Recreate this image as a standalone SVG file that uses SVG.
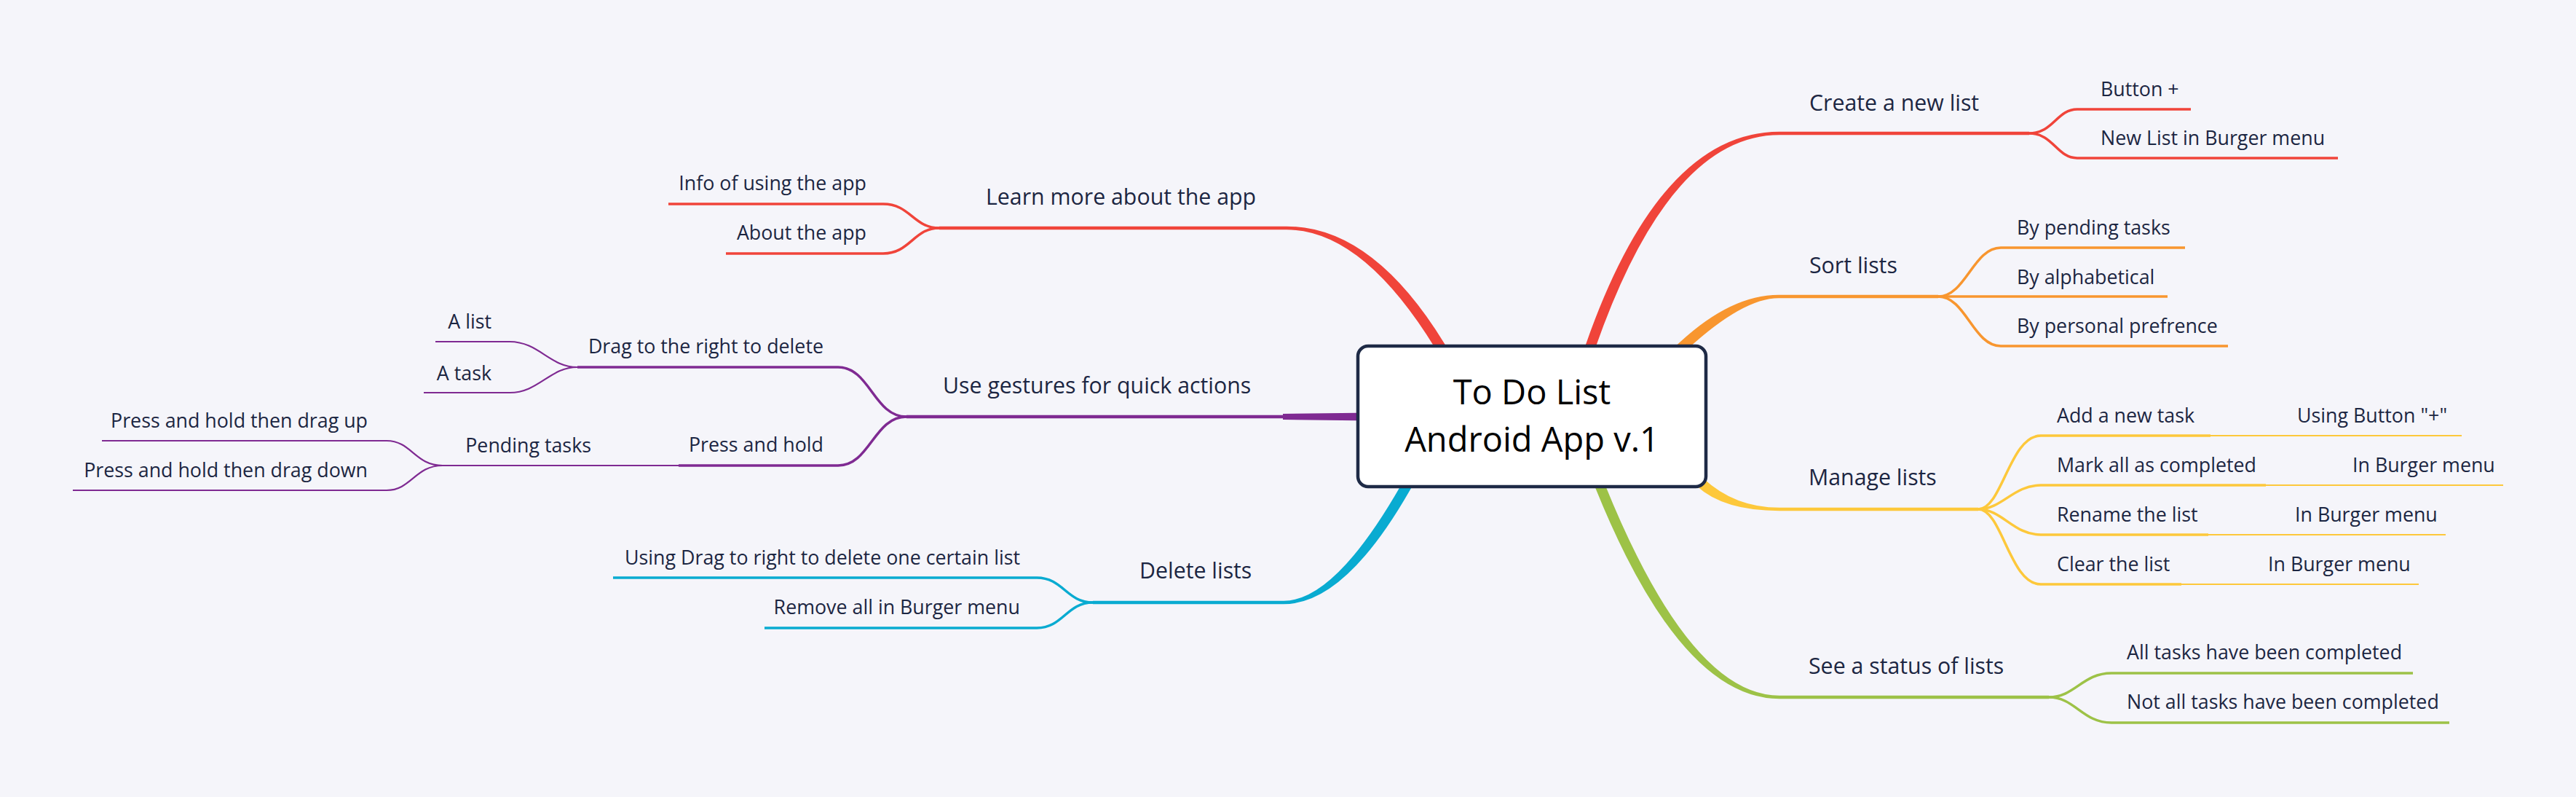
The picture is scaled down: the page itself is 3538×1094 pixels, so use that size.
<svg xmlns="http://www.w3.org/2000/svg" width="3538" height="1094" viewBox="0 0 3538 1094">
<style>
text{font-family:"Open Sans","Liberation Sans",sans-serif;fill:#1c2642}
.t1{font-size:30.3px}
.t2{font-size:26.8px}
.e{text-anchor:end}
.ctr{font-size:47px;fill:#000;text-anchor:middle}
.l1{stroke-width:4.5;fill:none}
.l2{stroke-width:3.5;fill:none}
.l3{stroke-width:2.2;fill:none}
.red{stroke:#f0443a}.redf{fill:#f0443a}
.org{stroke:#f8962f}.orgf{fill:#f8962f}
.yel{stroke:#fdc83b}.yelf{fill:#fdc83b}
.grn{stroke:#9dc247}.grnf{fill:#9dc247}
.cyn{stroke:#09abd1}.cynf{fill:#09abd1}
.pur{stroke:#7f2a92}.purf{fill:#7f2a92}
</style>
<rect x="0" y="0" width="3538" height="1094" fill="#f5f5fa"/>
<g id="connectors">
<path class="redf" d="M2171.8 490.6 L2178.4 471.7 Q2280.4 180.75 2444 180.75 L2444 185.25 Q2293.6 185.25 2191.6 476.3 L2185 495.2 Z"/>
<path class="orgf" d="M2293.6 482.3 L2308.3 468.8 Q2378.1 404.75 2443 404.75 L2443 409.25 Q2393.9 409.25 2317.7 479.2 L2303 492.7 Z"/>
<path class="yelf" d="M2325.1 643.3 L2339.8 656.9 Q2382.9 696.75 2444 696.75 L2444 701.25 Q2367.1 701.25 2330.2 667.1 L2315.5 653.5 Z"/>
<path class="grnf" d="M2197 646.9 L2204.5 665.4 Q2321.6 954.75 2444 954.75 L2444 959.25 Q2308.3 959.25 2191.5 670.6 L2184 652.1 Z"/>
<path class="redf" d="M1981.5 494.7 L1971 477.7 Q1871.1 315.25 1767 315.25 L1767 310.75 Q1884.9 310.75 1983 470.3 L1993.5 487.3 Z"/>
<path class="cynf" d="M1946 656.2 L1936.1 673.5 Q1846.8 829.25 1763 829.25 L1763 824.75 Q1833.2 824.75 1923.9 666.5 L1933.8 649.2 Z"/>
<path class="purf" d="M1885 566.5 L1762 568 L1762 576 L1885 577.5 Z"/>
<path class="l2 red" d="M2787 183 C2820 183 2825 150 2853 150"/>
<path class="l2 red" d="M2787 183 C2820 183 2825 217 2853 217"/>
<path class="l2 org" d="M2662 407 C2700 407 2710 340 2748 340"/>
<path class="l2 org" d="M2662 407 L2748 407"/>
<path class="l2 org" d="M2662 407 C2700 407 2710 475 2748 475"/>
<path class="l2 yel" d="M2717 699 C2750 699 2760 598 2803 598"/>
<path class="l2 yel" d="M2717 699 C2750 699 2765 666 2803 666"/>
<path class="l2 yel" d="M2717 699 C2750 699 2765 734 2803 734"/>
<path class="l2 yel" d="M2717 699 C2750 699 2760 802 2803 802"/>
<path class="l3 yel" d="M3036 598 L3140 598"/>
<path class="l3 yel" d="M3112 666 L3216 666"/>
<path class="l3 yel" d="M3033 734 L3137 734"/>
<path class="l3 yel" d="M2996 802 L3100 802"/>
<path class="l2 grn" d="M2814 957 C2850 957 2860 924 2900 924"/>
<path class="l2 grn" d="M2814 957 C2850 957 2860 992 2900 992"/>
<path class="l2 red" d="M1290 313 C1255 313 1250 280 1213 280"/>
<path class="l2 red" d="M1290 313 C1255 313 1250 348 1213 348"/>
<path class="l2 pur" d="M1245 572 C1200 572 1195 504 1151 504"/>
<path class="l2 pur" d="M1245 572 C1200 572 1195 639 1151 639"/>
<path class="l3 pur" d="M793 504 C755 504 740 469 700 469"/>
<path class="l3 pur" d="M793 504 C755 504 740 539 700 539"/>
<path class="l3 pur" d="M932 639 L832 639"/>
<path class="l3 pur" d="M608 639 C570 639 565 605 531 605"/>
<path class="l3 pur" d="M608 639 C570 639 565 673 531 673"/>
<path class="l2 cyn" d="M1501 827 C1465 827 1460 793 1424 793"/>
<path class="l2 cyn" d="M1501 827 C1465 827 1460 862 1424 862"/>
</g>
<g id="central">
<rect x="1865" y="475" width="478" height="193" rx="14" fill="#fff" stroke="#1e2a46" stroke-width="4.5"/>
<text class="ctr" x="2104" y="555">To Do List</text>
<text class="ctr" x="2104" y="620">Android App v.1</text>
</g>
<g id="create-list"><path class="l1 red" d="M2444 183 L2787 183"/><text class="t1" x="2485" y="152">Create a new list</text></g>
<g id="button-plus"><path class="l2 red" d="M2853 150 L3009 150"/><text class="t2" x="2885" y="132">Button +</text></g>
<g id="new-list-burger"><path class="l2 red" d="M2853 217 L3211 217"/><text class="t2" x="2885" y="199">New List in Burger menu</text></g>
<g id="sort-lists"><path class="l1 org" d="M2443 407 L2662 407"/><text class="t1" x="2485" y="375">Sort lists</text></g>
<g id="by-pending"><path class="l2 org" d="M2748 340 L3001 340"/><text class="t2" x="2770" y="322">By pending tasks</text></g>
<g id="by-alpha"><path class="l2 org" d="M2748 407 L2977 407"/><text class="t2" x="2770" y="390">By alphabetical</text></g>
<g id="by-personal"><path class="l2 org" d="M2748 475 L3060 475"/><text class="t2" x="2770" y="457">By personal prefrence</text></g>
<g id="manage-lists"><path class="l1 yel" d="M2444 699 L2717 699"/><text class="t1" x="2484" y="666">Manage lists</text></g>
<g id="add-task"><path class="l2 yel" d="M2803 598 L3036 598"/><text class="t2" x="2825" y="580">Add a new task</text></g>
<g id="using-button"><path class="l3 yel" d="M3140 598 L3381 598"/><text class="t2" x="3155" y="580">Using Button "+"</text></g>
<g id="mark-all"><path class="l2 yel" d="M2803 666 L3112 666"/><text class="t2" x="2825" y="648">Mark all as completed</text></g>
<g id="mark-burger"><path class="l3 yel" d="M3216 666 L3438 666"/><text class="t2" x="3231" y="648">In Burger menu</text></g>
<g id="rename"><path class="l2 yel" d="M2803 734 L3033 734"/><text class="t2" x="2825" y="716">Rename the list</text></g>
<g id="rename-burger"><path class="l3 yel" d="M3137 734 L3359 734"/><text class="t2" x="3152" y="716">In Burger menu</text></g>
<g id="clear"><path class="l2 yel" d="M2803 802 L2996 802"/><text class="t2" x="2825" y="784">Clear the list</text></g>
<g id="clear-burger"><path class="l3 yel" d="M3100 802 L3322 802"/><text class="t2" x="3115" y="784">In Burger menu</text></g>
<g id="status"><path class="l1 grn" d="M2444 957 L2814 957"/><text class="t1" x="2484" y="925">See a status of lists</text></g>
<g id="all-done"><path class="l2 grn" d="M2900 924 L3314 924"/><text class="t2" x="2921" y="905">All tasks have been completed</text></g>
<g id="not-all-done"><path class="l2 grn" d="M2900 992 L3364 992"/><text class="t2" x="2921" y="973">Not all tasks have been completed</text></g>
<g id="learn-more"><path class="l1 red" d="M1767 313 L1290 313"/><text class="t1" x="1354" y="281">Learn more about the app</text></g>
<g id="info-using"><path class="l2 red" d="M918 280 L1213 280"/><text class="t2 e" x="1190" y="261">Info of using the app</text></g>
<g id="about-app"><path class="l2 red" d="M997 348 L1213 348"/><text class="t2 e" x="1190" y="329">About the app</text></g>
<g id="gestures"><path class="l1 pur" d="M1762 572 L1245 572"/><text class="t1" x="1295" y="540">Use gestures for quick actions</text></g>
<g id="drag-right"><path class="l2 pur" d="M793 504 L1151 504"/><text class="t2 e" x="1131" y="485">Drag to the right to delete</text></g>
<g id="a-list"><path class="l3 pur" d="M598 469 L700 469"/><text class="t2 e" x="675" y="451">A list</text></g>
<g id="a-task"><path class="l3 pur" d="M582 539 L700 539"/><text class="t2 e" x="675" y="522">A task</text></g>
<g id="press-hold"><path class="l2 pur" d="M932 639 L1151 639"/><text class="t2 e" x="1131" y="620">Press and hold</text></g>
<g id="pending-tasks"><path class="l3 pur" d="M608 639 L832 639"/><text class="t2 e" x="812" y="621">Pending tasks</text></g>
<g id="drag-up"><path class="l3 pur" d="M140 605 L531 605"/><text class="t2 e" x="505" y="587">Press and hold then drag up</text></g>
<g id="drag-down"><path class="l3 pur" d="M100 673 L531 673"/><text class="t2 e" x="505" y="655">Press and hold then drag down</text></g>
<g id="delete-lists"><path class="l1 cyn" d="M1763 827 L1501 827"/><text class="t1" x="1565" y="794">Delete lists</text></g>
<g id="drag-delete-one"><path class="l2 cyn" d="M842 793 L1424 793"/><text class="t2 e" x="1401" y="775">Using Drag to right to delete one certain list</text></g>
<g id="remove-all"><path class="l2 cyn" d="M1050 862 L1424 862"/><text class="t2 e" x="1401" y="843">Remove all in Burger menu</text></g>
</svg>
